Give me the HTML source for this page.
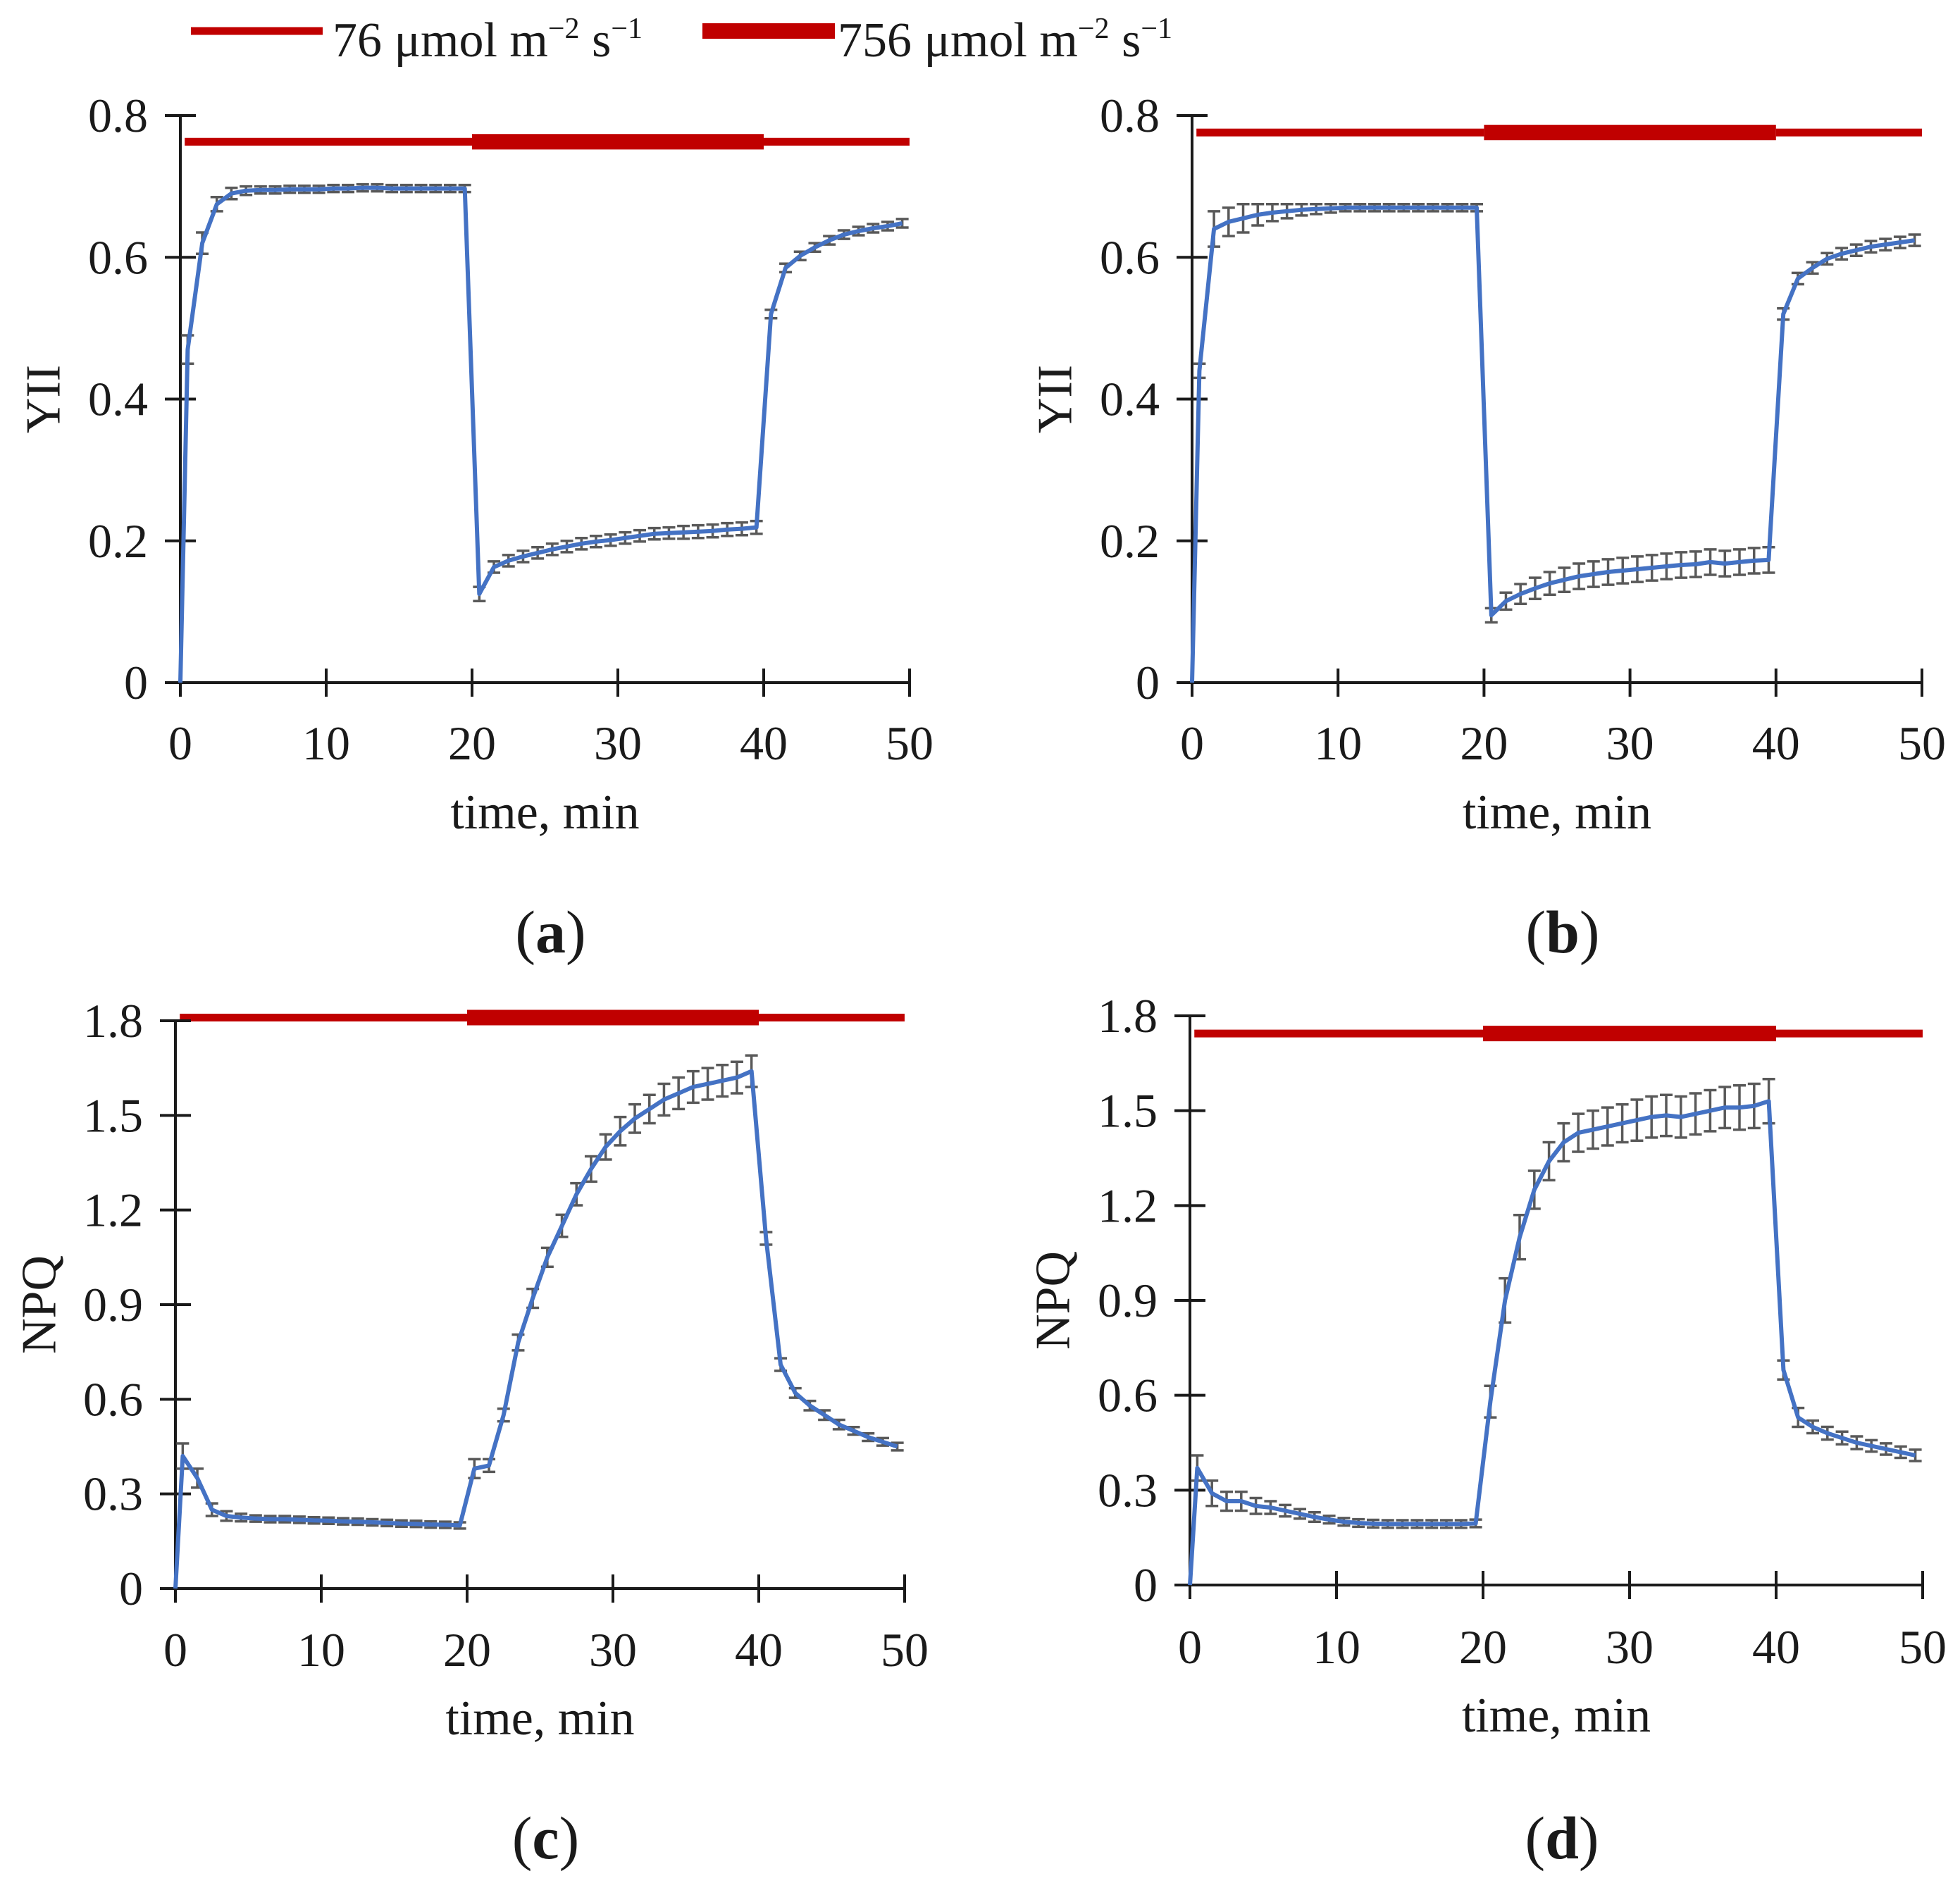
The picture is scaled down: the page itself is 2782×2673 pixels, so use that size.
<!DOCTYPE html>
<html><head><meta charset="utf-8"><style>
html,body{margin:0;padding:0;background:#fff}
svg{display:block}
text{font-family:"Liberation Serif",serif;fill:#1a1a1a}
</style></head><body>
<svg id="fig" width="2782" height="2673" viewBox="0 0 2782 2673" xmlns="http://www.w3.org/2000/svg">
<g>
<line x1="271" y1="44" x2="458" y2="44" stroke="#C00000" stroke-width="11"/>
<text x="472" y="80" font-size="70">76 μmol m<tspan dy="-26" font-size="42">−2</tspan><tspan dy="26"> s</tspan><tspan dy="-26" font-size="42">−1</tspan></text>
<line x1="997" y1="44" x2="1185" y2="44" stroke="#C00000" stroke-width="22"/>
<text x="1189" y="80" font-size="70">756 μmol m<tspan dy="-26" font-size="42">−2</tspan><tspan dy="26"> s</tspan><tspan dy="-26" font-size="42">−1</tspan></text>
</g>
</svg>
<script>
const times=[0,0.5,1.5,2.5,3.5,4.5,5.5,6.5,7.5,8.5,9.5,10.5,11.5,12.5,13.5,14.5,15.5,16.5,17.5,18.5,19.5,20.5,21.5,22.5,23.5,24.5,25.5,26.5,27.5,28.5,29.5,30.5,31.5,32.5,33.5,34.5,35.5,36.5,37.5,38.5,39.5,40.5,41.5,42.5,43.5,44.5,45.5,46.5,47.5,48.5,49.5];
const xTicks=[0,10,20,30,40,50];
const yTicksYII=["0","0.2","0.4","0.6","0.8"];
const yTicksNPQ=["0","0.3","0.6","0.9","1.2","1.5","1.8"];
const valsA=[0,0.47,0.62,0.675,0.69,0.694,0.695,0.695,0.696,0.696,0.696,0.697,0.697,0.698,0.698,0.697,0.697,0.697,0.697,0.697,0.697,0.125,0.163,0.172,0.178,0.183,0.188,0.192,0.196,0.199,0.201,0.204,0.207,0.21,0.211,0.212,0.213,0.214,0.216,0.217,0.219,0.52,0.585,0.602,0.614,0.624,0.632,0.637,0.641,0.644,0.648];
const errA=[0,0.02,0.015,0.01,0.008,0.006,0.005,0.005,0.005,0.005,0.005,0.005,0.005,0.005,0.005,0.005,0.005,0.005,0.005,0.005,0.005,0.01,0.008,0.008,0.008,0.008,0.008,0.008,0.008,0.008,0.008,0.008,0.008,0.008,0.008,0.009,0.009,0.009,0.009,0.009,0.009,0.006,0.006,0.006,0.006,0.006,0.006,0.006,0.006,0.006,0.006];
const valsB=[0,0.44,0.64,0.65,0.655,0.66,0.663,0.665,0.667,0.668,0.669,0.67,0.67,0.67,0.67,0.67,0.67,0.67,0.67,0.67,0.67,0.095,0.115,0.125,0.133,0.14,0.145,0.15,0.153,0.156,0.158,0.16,0.162,0.164,0.166,0.167,0.17,0.168,0.17,0.172,0.173,0.52,0.57,0.585,0.598,0.605,0.61,0.615,0.618,0.621,0.624];
const errB=[0,0.01,0.025,0.02,0.02,0.015,0.012,0.01,0.008,0.007,0.006,0.005,0.005,0.005,0.005,0.005,0.005,0.005,0.005,0.005,0.005,0.01,0.012,0.014,0.015,0.016,0.017,0.018,0.018,0.018,0.018,0.018,0.018,0.018,0.018,0.018,0.018,0.018,0.018,0.018,0.018,0.008,0.008,0.008,0.008,0.008,0.008,0.008,0.008,0.008,0.008];
const valsC=[0,0.42,0.35,0.25,0.23,0.225,0.222,0.22,0.22,0.218,0.216,0.215,0.213,0.212,0.21,0.208,0.206,0.205,0.203,0.202,0.2,0.38,0.39,0.55,0.78,0.92,1.05,1.15,1.25,1.33,1.4,1.45,1.49,1.52,1.55,1.57,1.59,1.6,1.61,1.62,1.64,1.11,0.71,0.62,0.58,0.55,0.52,0.5,0.48,0.465,0.45];
const errC=[0,0.04,0.03,0.02,0.015,0.012,0.01,0.01,0.01,0.01,0.01,0.01,0.01,0.01,0.01,0.01,0.01,0.01,0.01,0.01,0.01,0.03,0.02,0.02,0.025,0.03,0.03,0.035,0.035,0.04,0.04,0.045,0.045,0.045,0.05,0.05,0.05,0.05,0.05,0.05,0.05,0.02,0.02,0.015,0.015,0.015,0.015,0.012,0.012,0.012,0.012];
const valsD=[0,0.37,0.29,0.265,0.265,0.25,0.245,0.235,0.225,0.215,0.207,0.2,0.196,0.194,0.193,0.193,0.193,0.193,0.193,0.193,0.195,0.58,0.9,1.1,1.25,1.34,1.4,1.43,1.44,1.45,1.46,1.47,1.48,1.485,1.48,1.49,1.5,1.51,1.51,1.515,1.53,0.68,0.53,0.5,0.48,0.465,0.45,0.44,0.43,0.42,0.41];
const errD=[0,0.04,0.04,0.03,0.03,0.025,0.02,0.018,0.015,0.015,0.012,0.012,0.012,0.012,0.012,0.012,0.012,0.012,0.012,0.012,0.012,0.05,0.07,0.07,0.06,0.06,0.06,0.06,0.06,0.06,0.06,0.065,0.065,0.065,0.065,0.065,0.065,0.065,0.07,0.07,0.07,0.03,0.03,0.02,0.02,0.02,0.02,0.018,0.018,0.018,0.018];
const lightLevels=[0.763,0.776,1.81,1.744];
const lightPhases=[[0.3,20,"thin"],[20,40,"thick"],[40,50,"thin"]];

const NS="http://www.w3.org/2000/svg";
const svg=document.getElementById('fig');
function mk(tag,attrs,parent){const e=document.createElementNS(NS,tag);for(const k in attrs)e.setAttribute(k,attrs[k]);parent.appendChild(e);return e;}

const panels=[
 {id:"a",x0:256,x1:1291,y0:969,y1:164,ymax:0.8,ticks:yTicksYII,vals:valsA,err:errA,yl:"YII",ylx:62,tlY:1078,ttY:1176,plY:1352,lvl:lightLevels[0]},
 {id:"b",x0:1692,x1:2728,y0:969,y1:164,ymax:0.8,ticks:yTicksYII,vals:valsB,err:errB,yl:"YII",ylx:1498,tlY:1078,ttY:1176,plY:1352,lvl:lightLevels[1]},
 {id:"c",x0:249,x1:1284,y0:2255,y1:1449,ymax:1.8,ticks:yTicksNPQ,vals:valsC,err:errC,yl:"NPQ",ylx:56,tlY:2365,ttY:2462,plY:2638,lvl:lightLevels[2]},
 {id:"d",x0:1689,x1:2729,y0:2250,y1:1442,ymax:1.8,ticks:yTicksNPQ,vals:valsD,err:errD,yl:"NPQ",ylx:1495,tlY:2361,ttY:2458,plY:2638,lvl:lightLevels[3]}
];

panels.forEach(p=>{
 const xs=v=>p.x0+(v/50)*(p.x1-p.x0);
 const ys=v=>p.y0-(v/p.ymax)*(p.y0-p.y1);
 const g=mk('g',{},svg);
 
 
 lightPhases.forEach(ph=>{
  const l=mk('line',{x1:xs(ph[0]),x2:xs(ph[1]),y1:ys(p.lvl),y2:ys(p.lvl),stroke:"#C00000","stroke-width":ph[2]==="thin"?11:22},g);
  
  
 });
 const ya=mk('line',{x1:p.x0,x2:p.x0,y1:p.y1,y2:p.y0+20,stroke:"#1a1a1a","stroke-width":4},g);
 
 
 const xa=mk('line',{x1:p.x0-22,x2:p.x1,y1:p.y0,y2:p.y0,stroke:"#1a1a1a","stroke-width":4},g);
 
 
 p.ticks.forEach(t=>{
  const v=parseFloat(t);
  const tk=mk('line',{x1:p.x0-22,x2:p.x0+22,y1:ys(v),y2:ys(v),stroke:"#1a1a1a","stroke-width":4},g);
  
  
  const tx=mk('text',{x:p.x0-46,y:ys(v)+23,"font-size":68,"text-anchor":"end"},g);
  tx.textContent=t;
  
  
 });
 xTicks.forEach(t=>{
  const tk=mk('line',{x1:xs(t),x2:xs(t),y1:p.y0-20,y2:p.y0+20,stroke:"#1a1a1a","stroke-width":4},g);
  
  
  const tx=mk('text',{x:xs(t),y:p.tlY,"font-size":68,"text-anchor":"middle"},g);
  tx.textContent=String(t);
  
  
 });
 times.forEach((t,i)=>{
  const e=p.err[i]; if(!e) return;
  const x=xs(t),yt=ys(p.vals[i]+e),yb=ys(p.vals[i]-e);
  const eb=mk('path',{d:`M${x},${yt}V${yb}M${x-9},${yt}H${x+9}M${x-9},${yb}H${x+9}`,stroke:"#595959","stroke-width":3.5,fill:"none"},g);
  
  
 });
 const pts=times.map((t,i)=>xs(t).toFixed(1)+","+ys(p.vals[i]).toFixed(1)).join(" ");
 const pl=mk('polyline',{points:pts,fill:"none",stroke:"#4472C4","stroke-width":6,"stroke-linejoin":"round"},g);
 
 
 const yc=(p.y0+p.y1)/2;
 const yl=mk('text',{x:p.ylx,y:yc,"font-size":70,"text-anchor":"middle",transform:`rotate(-90 ${p.ylx} ${yc})`,"dominant-baseline":"central"},g);
 yl.textContent=p.yl;
 
 
 const xt=mk('text',{x:(p.x0+p.x1)/2,y:p.ttY,"font-size":70,"text-anchor":"middle"},g);
 xt.textContent="time, min";
 
 
 const pl2=mk('text',{x:(p.x0+p.x1)/2+8,y:p.plY,"font-size":86,"text-anchor":"middle"},g);
 pl2.innerHTML='(<tspan font-weight="bold">'+p.id+'</tspan>)';
 
 
});
</script>
</body></html>
